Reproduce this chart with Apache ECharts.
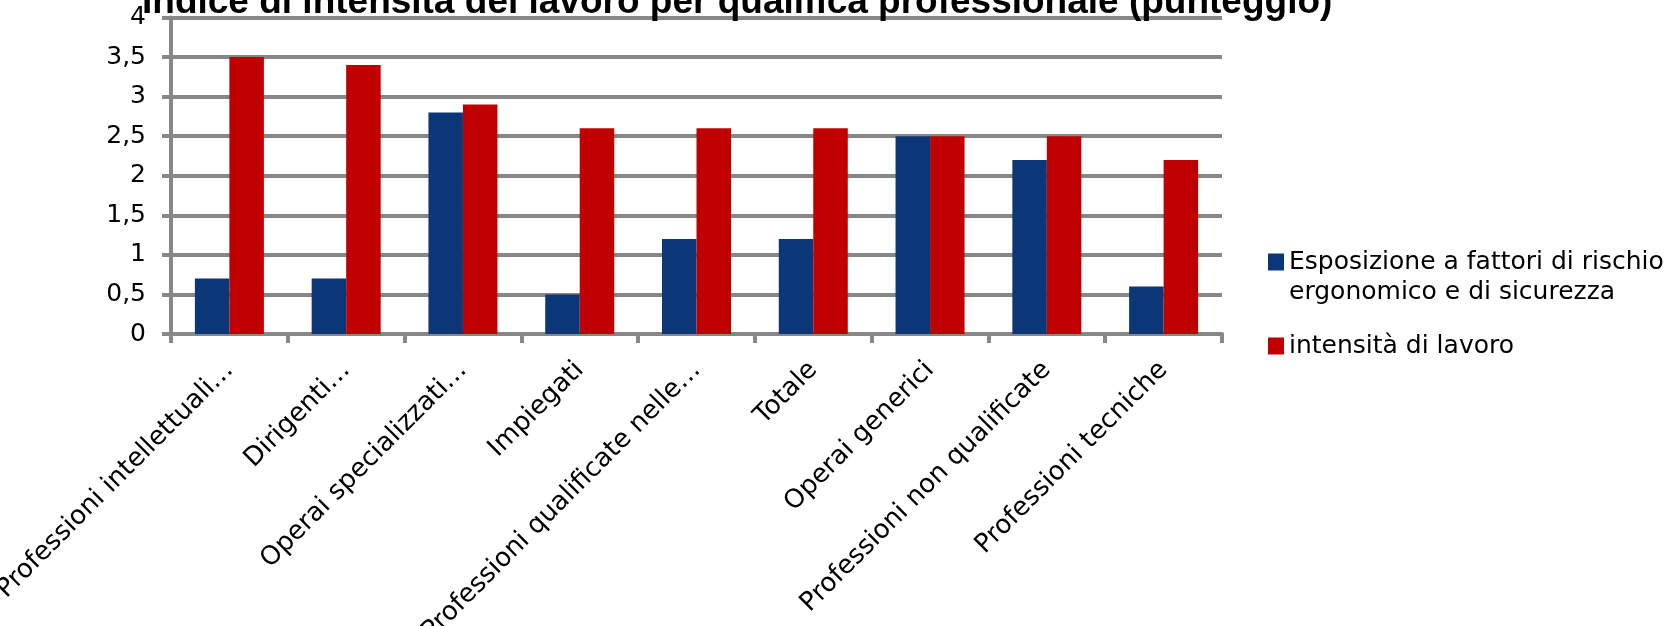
<!DOCTYPE html>
<html>
<head>
<meta charset="utf-8">
<script src="https://cdn.jsdelivr.net/npm/echarts@6/dist/echarts.min.js"></script>
<style>
  html, body { margin: 0; padding: 0; background: #fff; }
  #chart { width: 1679px; height: 626px; }
</style>
</head>
<body>
<div id="chart"></div>
<script>
// dati
var categorie = [
  'Professioni intellettuali…',
  'Dirigenti…',
  'Operai specializzati…',
  'Impiegati',
  'Professioni qualificate nelle…',
  'Totale',
  'Operai generici',
  'Professioni non qualificate',
  'Professioni tecniche'
];
var esposizione = [0.7, 0.7, 2.8, 0.5, 1.2, 1.2, 2.5, 2.2, 0.6];
var intensita = [3.5, 3.4, 2.9, 2.6, 2.6, 2.6, 2.5, 2.5, 2.2];
var nomeSerie = ['Esposizione a fattori di rischio ergonomico e di sicurezza', 'intensità di lavoro'];

var grigio = '#878787';
var font = 'DejaVu Sans';

var chart = echarts.init(document.getElementById('chart'));
var option = {
  animation: false,
  title: {
    text: 'Indice di intensità del lavoro per qualifica professionale (punteggio)',
    left: 142,
    top: -16,
    padding: 0,
    textStyle: {
      fontFamily: 'Liberation Sans, Arial',
      fontWeight: 'bold',
      fontSize: 37,
      color: '#000'
    }
  },
  legend: [
    {
      data: [nomeSerie[0]],
      orient: 'vertical',
      left: 1268,
      top: 217,
      padding: 0,
      icon: 'rect',
      itemWidth: 16,
      itemHeight: 17,
      // riga vuota in testa: il quadratino resta allineato alla prima riga
      formatter: function () {
        return '\nEsposizione a fattori di rischio\nergonomico e di sicurezza';
      },
      textStyle: {
        fontFamily: font,
        fontSize: 25,
        lineHeight: 30,
        color: '#000'
      }
    },
    {
      data: [nomeSerie[1]],
      orient: 'vertical',
      left: 1268,
      top: 331,
      padding: 0,
      icon: 'rect',
      itemWidth: 16,
      itemHeight: 17,
      textStyle: {
        fontFamily: font,
        fontSize: 25,
        lineHeight: 30,
        color: '#000'
      }
    }
  ],
  grid: {
    left: 171,
    right: 457,
    top: 17.5,
    bottom: 292,
    outerBoundsMode: 'none'
  },
  xAxis: {
    type: 'category',
    data: categorie,
    axisLine: { lineStyle: { color: grigio, width: 4 } },
    axisTick: { show: true, length: 9, lineStyle: { color: grigio, width: 4 } },
    axisLabel: {
      interval: 0,
      rotate: 45,
      margin: 32,
      fontFamily: font,
      fontSize: 26,
      color: '#000'
    }
  },
  yAxis: {
    type: 'value',
    min: 0,
    max: 4,
    interval: 0.5,
    axisLine: { show: true, lineStyle: { color: grigio, width: 4 } },
    axisTick: { show: true, length: 9, lineStyle: { color: grigio, width: 4 } },
    splitLine: { lineStyle: { color: grigio, width: 4 } },
    axisLabel: {
      margin: 25,
      fontFamily: font,
      fontSize: 25,
      color: '#000',
      formatter: function (v) { return String(v).replace('.', ','); }
    }
  },
  series: [
    {
      name: nomeSerie[0],
      type: 'bar',
      data: esposizione,
      barWidth: 34.5,
      barGap: 0,
      itemStyle: { color: '#0B3678' }
    },
    {
      name: nomeSerie[1],
      type: 'bar',
      data: intensita,
      barWidth: 34.5,
      barGap: 0,
      itemStyle: { color: '#C00000' }
    }
  ]
};
chart.setOption(option);
</script>
</body>
</html>
